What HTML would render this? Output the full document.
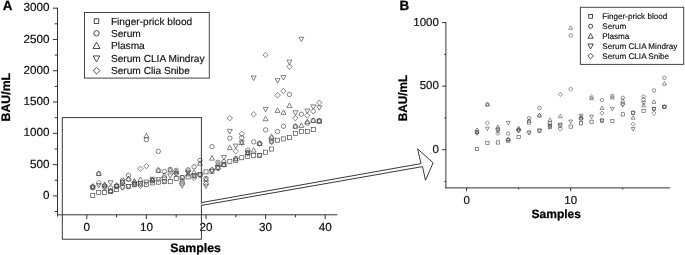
<!DOCTYPE html>
<html lang="en"><head><meta charset="utf-8"><title>BAU/mL by sample</title>
<style>
html,body{margin:0;padding:0;background:#fff;}
body{width:685px;height:255px;overflow:hidden;}
svg{display:block;font-family:"Liberation Sans",Arial,sans-serif;text-rendering:geometricPrecision;}
.ax{stroke:#333;stroke-width:1;fill:none;}
.bx{stroke:#3a3a3a;stroke-width:1;fill:none;}
.lg{stroke:#444;stroke-width:1;fill:#fff;}
.m{stroke:#444;stroke-width:0.66;fill:none;}
.mb{stroke:#484848;stroke-width:0.6;fill:none;}
.lm{stroke:#222;stroke-width:0.8;fill:none;}
.ar{stroke:#222;stroke-width:0.9;fill:#fff;}
.tk{font-size:11.7px;fill:#111;stroke:#111;stroke-width:0.2;}
.tkb{font-size:11.5px;fill:#111;stroke:#111;stroke-width:0.2;}
.bold{font-weight:bold;fill:#000;stroke:#000;stroke-width:0.25;}
.lt{fill:#111;stroke:#111;stroke-width:0.15;}
</style></head><body>
<svg width="685" height="255" viewBox="0 0 685 255">
<rect width="685" height="255" fill="#fff"/>
<text class="bold" x="2.8" y="9.9" font-size="13.4">A</text>
<text class="bold" font-size="12.3" transform="translate(10,121.4) rotate(-90)">BAU/mL</text>
<text class="bold" font-size="12.3" x="170.3" y="251.8">Samples</text>
<path class="ax" d="M57.5 7.66V216.60000000000002M57.0 214.8H337.3"/>
<path class="ax" d="M54.70 211.55H57.5M52.90 195.90H57.5M54.70 180.25H57.5M52.90 164.61H57.5M54.70 148.97H57.5M52.90 133.32H57.5M54.70 117.68H57.5M52.90 102.03H57.5M54.70 86.39H57.5M52.90 70.74H57.5M54.70 55.09H57.5M52.90 39.45H57.5M54.70 23.81H57.5M52.90 8.16H57.5M86.80 214.8V219.20M116.60 214.8V217.40M146.40 214.8V219.20M176.20 214.8V217.40M206.00 214.8V219.20M235.80 214.8V217.40M265.60 214.8V219.20M295.40 214.8V217.40M325.20 214.8V219.20"/>
<text class="tk" text-anchor="end" x="49.5" y="199.05">0</text>
<text class="tk" text-anchor="end" x="49.5" y="167.76">500</text>
<text class="tk" text-anchor="end" x="49.5" y="136.47">1000</text>
<text class="tk" text-anchor="end" x="49.5" y="105.18">1500</text>
<text class="tk" text-anchor="end" x="49.5" y="73.89">2000</text>
<text class="tk" text-anchor="end" x="49.5" y="42.60">2500</text>
<text class="tk" text-anchor="end" x="49.5" y="11.31">3000</text>
<text class="tk" text-anchor="middle" x="86.80" y="231.4">0</text>
<text class="tk" text-anchor="middle" x="146.40" y="231.4">10</text>
<text class="tk" text-anchor="middle" x="206.00" y="231.4">20</text>
<text class="tk" text-anchor="middle" x="265.60" y="231.4">30</text>
<text class="tk" text-anchor="middle" x="325.20" y="231.4">40</text>
<rect class="m" x="90.72" y="193.55" width="4.08" height="4.08"/>
<circle class="m" cx="92.76" cy="187.14" r="2.21"/>
<path class="m" d="M90.26 189.06L92.76 184.55L95.26 189.06Z"/>
<path class="m" d="M90.26 185.97L92.76 190.48L95.26 185.97Z"/>
<path class="m" d="M90.07 186.26L92.76 183.57L95.45 186.26L92.76 188.95Z"/>
<rect class="m" x="96.68" y="190.48" width="4.08" height="4.08"/>
<circle class="m" cx="98.72" cy="173.62" r="2.21"/>
<path class="m" d="M96.22 175.54L98.72 171.03L101.22 175.54Z"/>
<path class="m" d="M96.22 183.59L98.72 188.10L101.22 183.59Z"/>
<path class="m" d="M96.03 182.70L98.72 180.01L101.41 182.70L98.72 185.38Z"/>
<rect class="m" x="102.64" y="190.29" width="4.08" height="4.08"/>
<circle class="m" cx="104.68" cy="185.76" r="2.21"/>
<path class="m" d="M102.18 186.62L104.68 182.11L107.18 186.62Z"/>
<path class="m" d="M102.18 184.91L104.68 189.42L107.18 184.91Z"/>
<path class="m" d="M101.99 187.76L104.68 185.08L107.37 187.76L104.68 190.45Z"/>
<rect class="m" x="108.60" y="189.35" width="4.08" height="4.08"/>
<circle class="m" cx="110.64" cy="187.95" r="2.21"/>
<path class="m" d="M108.14 192.56L110.64 188.05L113.14 192.56Z"/>
<path class="m" d="M108.14 180.78L110.64 185.29L113.14 180.78Z"/>
<path class="m" d="M107.95 191.02L110.64 188.33L113.33 191.02L110.64 193.71Z"/>
<rect class="m" x="114.56" y="187.60" width="4.08" height="4.08"/>
<circle class="m" cx="116.60" cy="186.01" r="2.21"/>
<path class="m" d="M114.10 187.18L116.60 182.67L119.10 187.18Z"/>
<path class="m" d="M114.10 184.59L116.60 189.11L119.10 184.59Z"/>
<path class="m" d="M113.91 186.51L116.60 183.83L119.29 186.51L116.60 189.20Z"/>
<rect class="m" x="120.52" y="180.47" width="4.08" height="4.08"/>
<circle class="m" cx="122.56" cy="180.38" r="2.21"/>
<path class="m" d="M120.06 183.55L122.56 179.04L125.06 183.55Z"/>
<path class="m" d="M120.06 185.53L122.56 190.04L125.06 185.53Z"/>
<path class="m" d="M119.87 187.45L122.56 184.76L125.25 187.45L122.56 190.14Z"/>
<rect class="m" x="126.48" y="184.47" width="4.08" height="4.08"/>
<circle class="m" cx="128.52" cy="175.31" r="2.21"/>
<path class="m" d="M126.02 180.92L128.52 176.41L131.02 180.92Z"/>
<path class="m" d="M126.02 184.59L128.52 189.11L131.02 184.59Z"/>
<path class="m" d="M125.83 179.13L128.52 176.44L131.21 179.13L128.52 181.82Z"/>
<rect class="m" x="132.44" y="182.78" width="4.08" height="4.08"/>
<circle class="m" cx="134.48" cy="182.82" r="2.21"/>
<path class="m" d="M131.98 183.11L134.48 178.60L136.98 183.11Z"/>
<path class="m" d="M131.98 182.09L134.48 186.60L136.98 182.09Z"/>
<path class="m" d="M131.79 184.32L134.48 181.63L137.17 184.32L134.48 187.01Z"/>
<rect class="m" x="138.40" y="181.97" width="4.08" height="4.08"/>
<path class="m" d="M137.94 181.36L140.44 176.85L142.94 181.36Z"/>
<path class="m" d="M137.94 181.65L140.44 186.16L142.94 181.65Z"/>
<path class="m" d="M137.75 168.68L140.44 165.99L143.13 168.68L140.44 171.37Z"/>
<rect class="m" x="144.36" y="182.47" width="4.08" height="4.08"/>
<circle class="m" cx="146.40" cy="139.64" r="2.21"/>
<path class="m" d="M143.90 137.81L146.40 133.29L148.90 137.81Z"/>
<path class="m" d="M143.90 180.15L146.40 184.66L148.90 180.15Z"/>
<path class="m" d="M143.71 166.05L146.40 163.36L149.09 166.05L146.40 168.74Z"/>
<rect class="m" x="150.32" y="180.84" width="4.08" height="4.08"/>
<circle class="m" cx="152.36" cy="180.57" r="2.21"/>
<path class="m" d="M149.86 181.86L152.36 177.35L154.86 181.86Z"/>
<path class="m" d="M149.86 177.27L152.36 181.78L154.86 177.27Z"/>
<path class="m" d="M149.67 180.57L152.36 177.88L155.05 180.57L152.36 183.26Z"/>
<rect class="m" x="156.28" y="180.09" width="4.08" height="4.08"/>
<circle class="m" cx="158.32" cy="151.28" r="2.21"/>
<path class="m" d="M155.82 172.48L158.32 167.96L160.82 172.48Z"/>
<path class="m" d="M155.82 177.71L158.32 182.22L160.82 177.71Z"/>
<path class="m" d="M155.63 169.93L158.32 167.24L161.01 169.93L158.32 172.62Z"/>
<rect class="m" x="162.24" y="179.53" width="4.08" height="4.08"/>
<circle class="m" cx="164.28" cy="171.49" r="2.21"/>
<path class="m" d="M161.78 177.29L164.28 172.78L166.78 177.29Z"/>
<path class="m" d="M161.78 179.65L164.28 184.16L166.78 179.65Z"/>
<path class="m" d="M161.59 177.88L164.28 175.19L166.97 177.88L164.28 180.56Z"/>
<rect class="m" x="168.20" y="179.65" width="4.08" height="4.08"/>
<circle class="m" cx="170.24" cy="169.43" r="2.21"/>
<path class="m" d="M167.74 172.10L170.24 167.59L172.74 172.10Z"/>
<path class="m" d="M167.74 173.89L170.24 178.40L172.74 173.89Z"/>
<rect class="m" x="174.16" y="176.46" width="4.08" height="4.08"/>
<circle class="m" cx="176.20" cy="170.37" r="2.21"/>
<path class="m" d="M173.70 173.66L176.20 169.15L178.70 173.66Z"/>
<path class="m" d="M173.70 171.76L176.20 176.28L178.70 171.76Z"/>
<path class="m" d="M173.51 173.68L176.20 171.00L178.89 173.68L176.20 176.37Z"/>
<rect class="m" x="180.12" y="175.71" width="4.08" height="4.08"/>
<circle class="m" cx="182.16" cy="177.63" r="2.21"/>
<path class="m" d="M179.66 182.05L182.16 177.54L184.66 182.05Z"/>
<path class="m" d="M179.66 183.78L182.16 188.29L184.66 183.78Z"/>
<path class="m" d="M179.47 183.32L182.16 180.63L184.85 183.32L182.16 186.01Z"/>
<rect class="m" x="186.08" y="174.84" width="4.08" height="4.08"/>
<circle class="m" cx="188.12" cy="169.80" r="2.21"/>
<path class="m" d="M185.62 175.98L188.12 171.47L190.62 175.98Z"/>
<path class="m" d="M185.62 170.83L188.12 175.34L190.62 170.83Z"/>
<path class="m" d="M185.43 171.18L188.12 168.49L190.81 171.18L188.12 173.87Z"/>
<rect class="m" x="192.04" y="173.77" width="4.08" height="4.08"/>
<circle class="m" cx="194.08" cy="166.74" r="2.21"/>
<path class="m" d="M191.58 174.23L194.08 169.72L196.58 174.23Z"/>
<path class="m" d="M191.58 173.89L194.08 178.40L196.58 173.89Z"/>
<path class="m" d="M191.39 178.00L194.08 175.31L196.77 178.00L194.08 180.69Z"/>
<rect class="m" x="198.00" y="172.77" width="4.08" height="4.08"/>
<circle class="m" cx="200.04" cy="160.54" r="2.21"/>
<path class="m" d="M197.54 165.28L200.04 160.77L202.54 165.28Z"/>
<path class="m" d="M197.54 172.89L200.04 177.40L202.54 172.89Z"/>
<path class="m" d="M197.35 174.81L200.04 172.12L202.73 174.81L200.04 177.50Z"/>
<rect class="m" x="203.96" y="169.83" width="4.08" height="4.08"/>
<circle class="m" cx="206.00" cy="178.57" r="2.21"/>
<path class="m" d="M203.50 181.30L206.00 176.79L208.50 181.30Z"/>
<path class="m" d="M203.50 184.15L206.00 188.67L208.50 184.15Z"/>
<path class="m" d="M203.31 183.57L206.00 180.88L208.69 183.57L206.00 186.26Z"/>
<rect class="m" x="209.92" y="169.14" width="4.08" height="4.08"/>
<circle class="m" cx="211.96" cy="146.59" r="2.21"/>
<path class="m" d="M209.46 160.15L211.96 155.63L214.46 160.15Z"/>
<path class="m" d="M209.46 169.26L211.96 173.77L214.46 169.26Z"/>
<path class="m" d="M209.27 169.68L211.96 166.99L214.65 169.68L211.96 172.37Z"/>
<rect class="m" x="215.88" y="165.70" width="4.08" height="4.08"/>
<circle class="m" cx="217.92" cy="162.23" r="2.21"/>
<path class="m" d="M215.42 165.72L217.92 161.20L220.42 165.72Z"/>
<path class="m" d="M215.42 165.82L217.92 170.33L220.42 165.82Z"/>
<path class="m" d="M215.23 168.49L217.92 165.80L220.61 168.49L217.92 171.18Z"/>
<rect class="m" x="221.84" y="162.57" width="4.08" height="4.08"/>
<circle class="m" cx="223.88" cy="161.79" r="2.21"/>
<path class="m" d="M221.38 166.53L223.88 162.02L226.38 166.53Z"/>
<path class="m" d="M221.38 155.56L223.88 160.07L226.38 155.56Z"/>
<path class="m" d="M221.19 164.61L223.88 161.92L226.57 164.61L223.88 167.30Z"/>
<rect class="m" x="227.80" y="159.25" width="4.08" height="4.08"/>
<circle class="m" cx="229.84" cy="138.20" r="2.21"/>
<path class="m" d="M227.34 149.63L229.84 145.12L232.34 149.63Z"/>
<path class="m" d="M227.34 129.33L229.84 133.85L232.34 129.33Z"/>
<path class="m" d="M227.15 118.18L229.84 115.49L232.53 118.18L229.84 120.86Z"/>
<rect class="m" x="233.76" y="158.19" width="4.08" height="4.08"/>
<circle class="m" cx="235.80" cy="158.29" r="2.21"/>
<path class="m" d="M233.30 160.90L235.80 156.39L238.30 160.90Z"/>
<path class="m" d="M233.30 144.10L235.80 148.62L238.30 144.10Z"/>
<path class="m" d="M233.11 151.16L235.80 148.47L238.49 151.16L235.80 153.84Z"/>
<rect class="m" x="239.72" y="155.69" width="4.08" height="4.08"/>
<circle class="m" cx="241.76" cy="137.70" r="2.21"/>
<path class="m" d="M239.26 144.63L241.76 140.11L244.26 144.63Z"/>
<path class="m" d="M239.26 140.79L241.76 145.30L244.26 140.79Z"/>
<path class="m" d="M239.07 133.88L241.76 131.20L244.45 133.88L241.76 136.57Z"/>
<rect class="m" x="245.68" y="154.25" width="4.08" height="4.08"/>
<circle class="m" cx="247.72" cy="150.22" r="2.21"/>
<path class="m" d="M245.22 154.64L247.72 150.13L250.22 154.64Z"/>
<path class="m" d="M245.22 150.80L247.72 155.31L250.22 150.80Z"/>
<path class="m" d="M245.03 153.35L247.72 150.66L250.41 153.35L247.72 156.03Z"/>
<rect class="m" x="251.64" y="153.50" width="4.08" height="4.08"/>
<circle class="m" cx="253.68" cy="141.83" r="2.21"/>
<path class="m" d="M251.18 152.14L253.68 147.62L256.18 152.14Z"/>
<path class="m" d="M251.18 76.02L253.68 80.53L256.18 76.02Z"/>
<path class="m" d="M250.99 114.30L253.68 111.61L256.37 114.30L253.68 116.98Z"/>
<rect class="m" x="257.60" y="153.50" width="4.08" height="4.08"/>
<circle class="m" cx="259.64" cy="143.52" r="2.21"/>
<path class="m" d="M257.14 145.44L259.64 140.93L262.14 145.44Z"/>
<path class="m" d="M257.14 153.62L259.64 158.13L262.14 153.62Z"/>
<path class="m" d="M256.95 143.52L259.64 140.83L262.33 143.52L259.64 146.21Z"/>
<rect class="m" x="263.56" y="150.18" width="4.08" height="4.08"/>
<circle class="m" cx="265.60" cy="129.88" r="2.21"/>
<path class="m" d="M263.10 120.72L265.60 116.21L268.10 120.72Z"/>
<path class="m" d="M263.10 107.37L265.60 111.88L268.10 107.37Z"/>
<path class="m" d="M262.91 55.03L265.60 52.34L268.29 55.03L265.60 57.72Z"/>
<rect class="m" x="269.52" y="146.99" width="4.08" height="4.08"/>
<circle class="m" cx="271.56" cy="141.83" r="2.21"/>
<path class="m" d="M269.06 138.37L271.56 133.86L274.06 138.37Z"/>
<path class="m" d="M269.06 139.91L271.56 144.42L274.06 139.91Z"/>
<path class="m" d="M268.87 138.51L271.56 135.83L274.25 138.51L271.56 141.20Z"/>
<rect class="m" x="275.48" y="138.16" width="4.08" height="4.08"/>
<circle class="m" cx="277.52" cy="131.57" r="2.21"/>
<path class="m" d="M275.02 112.40L277.52 107.89L280.02 112.40Z"/>
<path class="m" d="M275.02 78.65L277.52 83.16L280.02 78.65Z"/>
<path class="m" d="M274.83 95.33L277.52 92.65L280.21 95.33L277.52 98.02Z"/>
<rect class="m" x="281.44" y="136.85" width="4.08" height="4.08"/>
<circle class="m" cx="283.48" cy="126.31" r="2.21"/>
<path class="m" d="M280.98 114.40L283.48 109.89L285.98 114.40Z"/>
<path class="m" d="M280.98 75.52L283.48 80.03L285.98 75.52Z"/>
<path class="m" d="M280.79 91.08L283.48 88.39L286.17 91.08L283.48 93.77Z"/>
<rect class="m" x="287.40" y="135.66" width="4.08" height="4.08"/>
<circle class="m" cx="289.44" cy="94.52" r="2.21"/>
<path class="m" d="M286.94 107.58L289.44 103.07L291.94 107.58Z"/>
<path class="m" d="M286.94 60.12L289.44 64.63L291.94 60.12Z"/>
<path class="m" d="M286.75 66.67L289.44 63.98L292.13 66.67L289.44 69.36Z"/>
<rect class="m" x="293.36" y="131.28" width="4.08" height="4.08"/>
<circle class="m" cx="295.40" cy="126.31" r="2.21"/>
<path class="m" d="M292.90 128.23L295.40 123.72L297.90 128.23Z"/>
<path class="m" d="M292.90 110.75L295.40 115.26L297.90 110.75Z"/>
<path class="m" d="M292.71 118.18L295.40 115.49L298.09 118.18L295.40 120.86Z"/>
<rect class="m" x="299.32" y="129.53" width="4.08" height="4.08"/>
<circle class="m" cx="301.36" cy="114.30" r="2.21"/>
<path class="m" d="M298.86 127.42L301.36 122.91L303.86 127.42Z"/>
<path class="m" d="M298.86 37.22L301.36 41.73L303.86 37.22Z"/>
<rect class="m" x="305.28" y="129.28" width="4.08" height="4.08"/>
<circle class="m" cx="307.32" cy="123.12" r="2.21"/>
<path class="m" d="M304.82 123.66L307.32 119.15L309.82 123.66Z"/>
<path class="m" d="M304.82 109.06L307.32 113.57L309.82 109.06Z"/>
<path class="m" d="M304.63 115.48L307.32 112.80L310.01 115.48L307.32 118.17Z"/>
<rect class="m" x="311.24" y="127.59" width="4.08" height="4.08"/>
<circle class="m" cx="313.28" cy="120.49" r="2.21"/>
<path class="m" d="M310.78 122.41L313.28 117.90L315.78 122.41Z"/>
<path class="m" d="M310.78 104.87L313.28 109.38L315.78 104.87Z"/>
<path class="m" d="M310.59 111.29L313.28 108.60L315.97 111.29L313.28 113.98Z"/>
<rect class="m" x="317.20" y="118.95" width="4.08" height="4.08"/>
<circle class="m" cx="319.24" cy="120.99" r="2.21"/>
<path class="m" d="M316.74 122.91L319.24 118.40L321.74 122.91Z"/>
<path class="m" d="M316.74 105.74L319.24 110.25L321.74 105.74Z"/>
<path class="m" d="M316.55 102.66L319.24 99.97L321.93 102.66L319.24 105.34Z"/>
<path class="m" d="M137.75 185.70L140.44 183.01L143.13 185.70L140.44 188.39Z"/>
<rect class="bx" x="62.3" y="117.6" width="139.1" height="121.6"/>
<path class="ar" d="M201.5 202.6L421 163.6L417.6 148.8L433.1 162.9L425.5 180.2L422.5 166.6L201.5 205.4"/>
<rect class="lg" x="84.5" y="12.5" width="124.8" height="65.6"/>
<rect class="lm" x="94.20" y="18.80" width="4.59" height="4.59"/>
<text class="lt" font-size="10.17" x="110.9" y="24.70">Finger-prick blood</text>
<circle class="lm" cx="96.50" cy="33.30" r="2.68"/>
<text class="lt" font-size="10.17" x="110.9" y="36.90">Serum</text>
<path class="lm" d="M92.99 48.50L96.50 42.15L100.01 48.50Z"/>
<text class="lt" font-size="10.17" x="110.9" y="49.40">Plasma</text>
<path class="lm" d="M93.19 55.95L96.50 61.94L99.81 55.95Z"/>
<text class="lt" font-size="10.17" x="110.9" y="62.10">Serum CLIA Mindray</text>
<path class="lm" d="M93.17 70.60L96.50 67.27L99.83 70.60L96.50 73.93Z"/>
<text class="lt" font-size="10.17" x="110.9" y="74.20">Serum Clia Snibe</text>
<text class="bold" x="399.6" y="10" font-size="13.4">B</text>
<text class="bold" font-size="12.4" textLength="46.4" lengthAdjust="spacingAndGlyphs" transform="translate(406.5,121.3) rotate(-90)">BAU/mL</text>
<text class="bold" font-size="12" x="531.6" y="218">Samples</text>
<path class="ax" d="M445.9 22.10V188.4M445.4 187.9H670.1"/>
<path class="ax" d="M444.30 181.47H445.9M442.10 149.70H445.9M444.30 117.92H445.9M442.10 86.15H445.9M444.30 54.38H445.9M442.10 22.60H445.9M466.60 187.9V191.30M518.65 187.9V189.40M570.70 187.9V191.30M622.75 187.9V189.40"/>
<text class="tkb" text-anchor="end" x="438.9" y="152.90">0</text>
<text class="tkb" text-anchor="end" x="438.9" y="89.35">500</text>
<text class="tkb" text-anchor="end" x="438.9" y="25.80">1000</text>
<text class="tkb" text-anchor="middle" x="466.60" y="203.7">0</text>
<text class="tkb" text-anchor="middle" x="570.70" y="203.7">10</text>
<rect class="mb" x="475.40" y="147.45" width="3.23" height="3.23"/>
<circle class="mb" cx="477.01" cy="131.91" r="1.75"/>
<path class="mb" d="M475.03 133.43L477.01 129.85L478.99 133.43Z"/>
<path class="mb" d="M475.03 131.91L477.01 135.48L478.99 131.91Z"/>
<path class="mb" d="M474.88 130.13L477.01 128.00L479.14 130.13L477.01 132.25Z"/>
<rect class="mb" x="485.81" y="141.22" width="3.23" height="3.23"/>
<circle class="mb" cx="487.42" cy="104.45" r="1.75"/>
<path class="mb" d="M485.44 105.97L487.42 102.40L489.40 105.97Z"/>
<path class="mb" d="M485.44 127.08L487.42 130.65L489.40 127.08Z"/>
<path class="mb" d="M485.29 122.88L487.42 120.75L489.55 122.88L487.42 125.01Z"/>
<rect class="mb" x="496.22" y="140.84" width="3.23" height="3.23"/>
<circle class="mb" cx="497.83" cy="129.11" r="1.75"/>
<path class="mb" d="M495.85 128.47L497.83 124.90L499.81 128.47Z"/>
<path class="mb" d="M495.85 129.75L497.83 133.32L499.81 129.75Z"/>
<path class="mb" d="M495.70 133.18L497.83 131.05L499.96 133.18L497.83 135.31Z"/>
<rect class="mb" x="506.62" y="138.93" width="3.23" height="3.23"/>
<circle class="mb" cx="508.24" cy="133.56" r="1.75"/>
<path class="mb" d="M506.26 140.54L508.24 136.97L510.22 140.54Z"/>
<path class="mb" d="M506.26 121.36L508.24 124.93L510.22 121.36Z"/>
<path class="mb" d="M506.11 139.79L508.24 137.66L510.37 139.79L508.24 141.91Z"/>
<rect class="mb" x="517.03" y="135.37" width="3.23" height="3.23"/>
<circle class="mb" cx="518.65" cy="129.62" r="1.75"/>
<path class="mb" d="M516.67 129.61L518.65 126.04L520.63 129.61Z"/>
<path class="mb" d="M516.67 129.11L518.65 132.69L520.63 129.11Z"/>
<path class="mb" d="M516.52 130.63L518.65 128.51L520.78 130.63L518.65 132.76Z"/>
<rect class="mb" x="527.45" y="120.89" width="3.23" height="3.23"/>
<circle class="mb" cx="529.06" cy="118.18" r="1.75"/>
<path class="mb" d="M527.08 122.24L529.06 118.67L531.04 122.24Z"/>
<path class="mb" d="M527.08 131.02L529.06 134.59L531.04 131.02Z"/>
<path class="mb" d="M526.93 132.54L529.06 130.41L531.19 132.54L529.06 134.67Z"/>
<rect class="mb" x="537.86" y="129.02" width="3.23" height="3.23"/>
<circle class="mb" cx="539.47" cy="107.88" r="1.75"/>
<path class="mb" d="M537.49 116.90L539.47 113.33L541.45 116.90Z"/>
<path class="mb" d="M537.49 129.11L539.47 132.69L541.45 129.11Z"/>
<path class="mb" d="M537.34 115.64L539.47 113.51L541.60 115.64L539.47 117.77Z"/>
<rect class="mb" x="548.26" y="125.59" width="3.23" height="3.23"/>
<circle class="mb" cx="549.88" cy="123.14" r="1.75"/>
<path class="mb" d="M547.90 121.35L549.88 117.78L551.86 121.35Z"/>
<path class="mb" d="M547.90 124.03L549.88 127.60L551.86 124.03Z"/>
<path class="mb" d="M547.75 126.19L549.88 124.06L552.01 126.19L549.88 128.31Z"/>
<rect class="mb" x="558.67" y="123.94" width="3.23" height="3.23"/>
<path class="mb" d="M558.31 117.79L560.29 114.22L562.27 117.79Z"/>
<path class="mb" d="M558.31 123.14L560.29 126.71L562.27 123.14Z"/>
<path class="mb" d="M558.16 94.41L560.29 92.28L562.42 94.41L560.29 96.54Z"/>
<rect class="mb" x="569.09" y="124.95" width="3.23" height="3.23"/>
<circle class="mb" cx="570.70" cy="35.44" r="1.75"/>
<path class="mb" d="M568.72 29.33L570.70 25.76L572.68 29.33Z"/>
<path class="mb" d="M568.72 120.09L570.70 123.66L572.68 120.09Z"/>
<path class="mb" d="M568.57 89.07L570.70 86.95L572.83 89.07L570.70 91.20Z"/>
<rect class="mb" x="579.50" y="121.65" width="3.23" height="3.23"/>
<circle class="mb" cx="581.11" cy="118.56" r="1.75"/>
<path class="mb" d="M579.13 118.81L581.11 115.24L583.09 118.81Z"/>
<path class="mb" d="M579.13 114.24L581.11 117.82L583.09 114.24Z"/>
<path class="mb" d="M578.98 118.56L581.11 116.43L583.24 118.56L581.11 120.69Z"/>
<rect class="mb" x="589.90" y="120.12" width="3.23" height="3.23"/>
<circle class="mb" cx="591.52" cy="59.08" r="1.75"/>
<path class="mb" d="M589.54 99.74L591.52 96.17L593.50 99.74Z"/>
<path class="mb" d="M589.54 115.13L591.52 118.71L593.50 115.13Z"/>
<path class="mb" d="M589.39 96.95L591.52 94.83L593.65 96.95L591.52 99.08Z"/>
<rect class="mb" x="600.32" y="118.98" width="3.23" height="3.23"/>
<circle class="mb" cx="601.93" cy="100.13" r="1.75"/>
<path class="mb" d="M599.95 109.53L601.93 105.96L603.91 109.53Z"/>
<path class="mb" d="M599.95 119.07L601.93 122.65L603.91 119.07Z"/>
<path class="mb" d="M599.80 113.10L601.93 110.97L604.06 113.10L601.93 115.22Z"/>
<rect class="mb" x="610.73" y="119.23" width="3.23" height="3.23"/>
<circle class="mb" cx="612.34" cy="95.94" r="1.75"/>
<path class="mb" d="M610.36 98.98L612.34 95.41L614.32 98.98Z"/>
<path class="mb" d="M610.36 107.38L612.34 110.95L614.32 107.38Z"/>
<rect class="mb" x="621.13" y="112.75" width="3.23" height="3.23"/>
<circle class="mb" cx="622.75" cy="97.84" r="1.75"/>
<path class="mb" d="M620.77 102.16L622.75 98.59L624.73 102.16Z"/>
<path class="mb" d="M620.77 103.06L622.75 106.63L624.73 103.06Z"/>
<path class="mb" d="M620.62 104.58L622.75 102.45L624.88 104.58L622.75 106.71Z"/>
<rect class="mb" x="631.55" y="111.23" width="3.23" height="3.23"/>
<circle class="mb" cx="633.16" cy="112.59" r="1.75"/>
<path class="mb" d="M631.18 119.19L633.16 115.62L635.14 119.19Z"/>
<path class="mb" d="M631.18 127.46L633.16 131.03L635.14 127.46Z"/>
<path class="mb" d="M631.03 124.15L633.16 122.02L635.29 124.15L633.16 126.28Z"/>
<rect class="mb" x="641.96" y="109.45" width="3.23" height="3.23"/>
<circle class="mb" cx="643.57" cy="96.70" r="1.75"/>
<path class="mb" d="M641.59 106.86L643.57 103.29L645.55 106.86Z"/>
<path class="mb" d="M641.59 101.15L643.57 104.73L645.55 101.15Z"/>
<path class="mb" d="M641.44 99.50L643.57 97.37L645.70 99.50L643.57 101.62Z"/>
<rect class="mb" x="652.37" y="107.29" width="3.23" height="3.23"/>
<circle class="mb" cx="653.98" cy="90.47" r="1.75"/>
<path class="mb" d="M652.00 103.30L653.98 99.73L655.96 103.30Z"/>
<path class="mb" d="M652.00 107.38L653.98 110.95L655.96 107.38Z"/>
<path class="mb" d="M651.85 113.35L653.98 111.22L656.11 113.35L653.98 115.48Z"/>
<rect class="mb" x="662.77" y="105.25" width="3.23" height="3.23"/>
<circle class="mb" cx="664.39" cy="77.89" r="1.75"/>
<path class="mb" d="M662.41 85.13L664.39 81.56L666.37 85.13Z"/>
<path class="mb" d="M662.41 105.35L664.39 108.92L666.37 105.35Z"/>
<path class="mb" d="M662.26 106.87L664.39 104.74L666.52 106.87L664.39 109.00Z"/>
<path class="mb" d="M558.16 128.98L560.29 126.85L562.42 128.98L560.29 131.11Z"/>
<rect class="lg" x="580.4" y="7.3" width="103.3" height="57.1"/>
<rect class="lm" x="588.76" y="14.56" width="3.67" height="3.67"/>
<text class="lt" font-size="8.15" x="602.3" y="19.30">Finger-prick blood</text>
<circle class="lm" cx="590.60" cy="26.30" r="2.10"/>
<text class="lt" font-size="8.15" x="602.3" y="29.20">Serum</text>
<path class="lm" d="M587.95 38.24L590.60 33.45L593.25 38.24Z"/>
<text class="lt" font-size="8.15" x="602.3" y="39.10">Plasma</text>
<path class="lm" d="M587.85 43.99L590.60 48.95L593.35 43.99Z"/>
<text class="lt" font-size="8.15" x="602.3" y="49.00">Serum CLIA Mindray</text>
<path class="lm" d="M587.78 56.00L590.60 53.18L593.42 56.00L590.60 58.82Z"/>
<text class="lt" font-size="8.15" x="602.3" y="58.90">Serum CLIA Snibe</text>
</svg></body></html>
